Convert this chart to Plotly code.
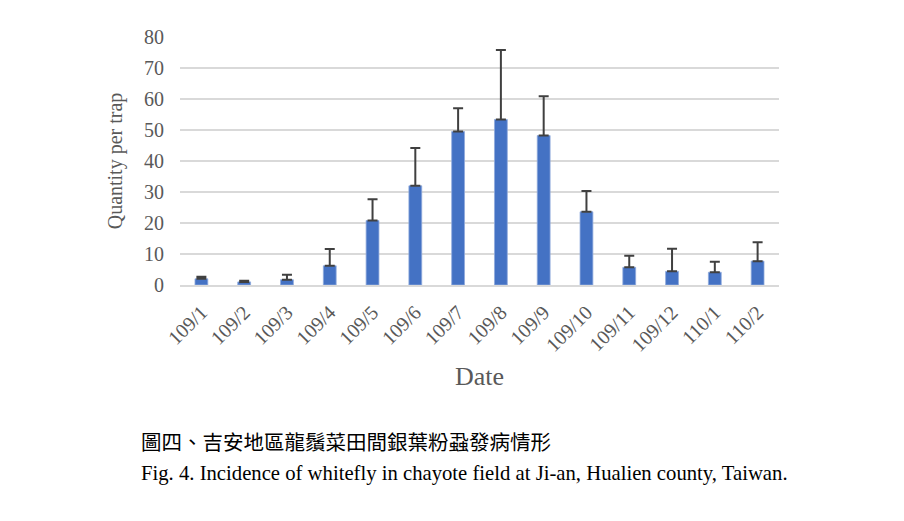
import plotly.graph_objects as go

# monthly whitefly counts (ROC calendar year/month)
dates = ["109/1", "109/2", "109/3", "109/4", "109/5", "109/6", "109/7",
         "109/8", "109/9", "109/10", "109/11", "109/12", "110/1", "110/2"]
mean_count = [2.0, 1.0, 1.7, 6.2, 20.8, 32.0, 49.5, 53.4, 48.2, 23.6, 5.7, 4.4, 4.1, 7.7]
upper_err = [0.7, 0.4, 1.6, 5.4, 6.9, 12.2, 7.5, 22.4, 12.7, 6.7, 3.7, 7.3, 3.4, 6.1]

serif = "Liberation Serif, Times New Roman, serif"
grey = "#595959"

fig = go.Figure()
fig.add_trace(go.Bar(
    x=dates,
    y=mean_count,
    marker=dict(color="#4472c4", line=dict(color="#8faadc", width=0.8)),
    error_y=dict(type="data", symmetric=False, array=upper_err,
                 arrayminus=[0] * len(dates),
                 color="#404040", thickness=2, width=5),
))

# page body adds ~8px offset, margins compensate
fig.update_layout(
    width=904, height=521,
    margin=dict(l=172, r=133, t=29, b=244),
    paper_bgcolor="white", plot_bgcolor="white",
    bargap=0.7,
    showlegend=False,
    font=dict(family=serif, color=grey),
)

fig.update_yaxes(
    range=[0, 80], dtick=10,
    showgrid=True, gridcolor="#d9d9d9", gridwidth=1.5,
    zeroline=False, showline=False,
    tickfont=dict(size=20, family=serif, color=grey),
    ticks="", ticklabelstandoff=15,
    title=dict(text="Quantity per trap", font=dict(size=20, family=serif, color=grey),
               standoff=16),
)
fig.update_xaxes(
    showline=True, linecolor="#d9d9d9", linewidth=1.5,
    tickangle=-45,
    tickfont=dict(size=20, family=serif, color=grey),
    ticks="", ticklabelstandoff=6,
)

fig.add_annotation(
    text="Date", xref="paper", yref="paper", x=0.5, y=-0.37,
    showarrow=False, font=dict(size=26, family=serif, color=grey),
    xanchor="center", yanchor="middle",
)
fig.add_annotation(
    text="圖四、吉安地區龍鬚菜田間銀葉粉蝨發病情形", xref="paper", yref="paper",
    x=-0.068, y=-0.629, showarrow=False, xanchor="left", yanchor="middle",
    font=dict(size=20.5, family="Noto Sans CJK TC, serif", color="#000000"),
)
fig.add_annotation(
    text="Fig. 4. Incidence of whitefly in chayote field at Ji-an, Hualien county, Taiwan.",
    xref="paper", yref="paper", x=-0.068, y=-0.762, showarrow=False,
    xanchor="left", yanchor="middle",
    font=dict(size=20.7, family=serif, color="#000000"),
)

fig.write_html("out.html")
